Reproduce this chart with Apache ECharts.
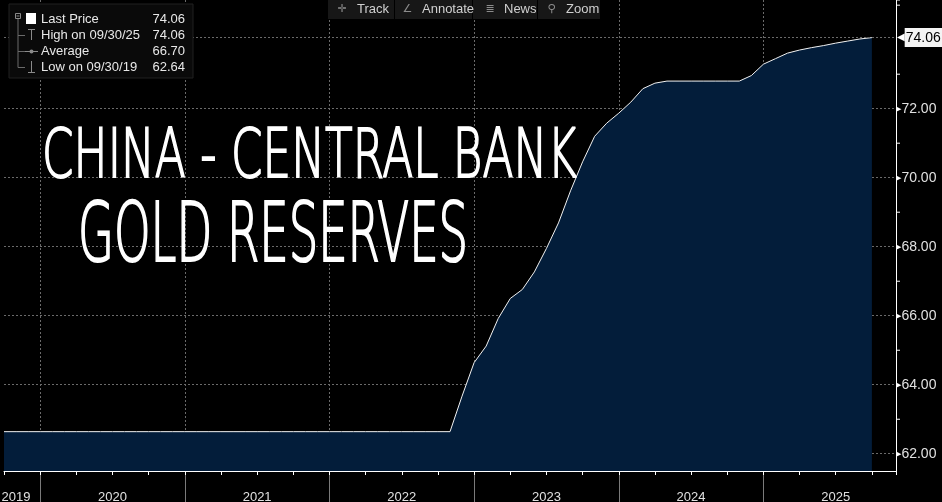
<!DOCTYPE html>
<html><head><meta charset="utf-8">
<script src="https://cdn.jsdelivr.net/npm/echarts@6/dist/echarts.min.js"></script>
<style>html,body{margin:0;padding:0;background:#000;}#c{width:942px;height:502px;}</style>
</head><body><div id="c"></div>
<script>
// ---- data ----
const months = [
 '2019-09','2019-10','2019-11','2019-12',
 '2020-01','2020-02','2020-03','2020-04','2020-05','2020-06','2020-07','2020-08','2020-09','2020-10','2020-11','2020-12',
 '2021-01','2021-02','2021-03','2021-04','2021-05','2021-06','2021-07','2021-08','2021-09','2021-10','2021-11','2021-12',
 '2022-01','2022-02','2022-03','2022-04','2022-05','2022-06','2022-07','2022-08','2022-09','2022-10','2022-11','2022-12',
 '2023-01','2023-02','2023-03','2023-04','2023-05','2023-06','2023-07','2023-08','2023-09','2023-10','2023-11','2023-12',
 '2024-01','2024-02','2024-03','2024-04','2024-05','2024-06','2024-07','2024-08','2024-09','2024-10','2024-11','2024-12',
 '2025-01','2025-02','2025-03','2025-04','2025-05','2025-06','2025-07','2025-08','2025-09'
];
const reserves = [
 62.64,62.64,62.64,62.64,
 62.64,62.64,62.64,62.64,62.64,62.64,62.64,62.64,62.64,62.64,62.64,62.64,
 62.64,62.64,62.64,62.64,62.64,62.64,62.64,62.64,62.64,62.64,62.64,62.64,
 62.64,62.64,62.64,62.64,62.64,62.64,62.64,62.64,62.64,62.64,63.67,64.64,
 65.12,65.92,66.50,66.76,67.27,67.95,68.69,69.62,70.46,71.20,71.58,71.87,
 72.19,72.58,72.74,72.80,72.80,72.80,72.80,72.80,72.80,72.80,72.96,73.29,
 73.45,73.61,73.70,73.77,73.83,73.90,73.96,74.02,74.06
];
const lastPrice = 74.06;
const yLabelTicks = [62, 64, 66, 68, 70, 72];
const yearLabels = ['2019','2020','2021','2022','2023','2024','2025'];
const legendRows = [['Last Price','74.06'],['High on 09/30/25','74.06'],['Average','66.70'],['Low on 09/30/19','62.64']];
const toolButtons = [['\u271B','Track'],['\u2220','Annotate'],['\u2263','News'],['\u26B2','Zoom']];
const titleLines = ['CHINA - CENTRAL BANK', 'GOLD RESERVES'];

// ---- helpers ----
const monthPos = s => (parseInt(s.slice(0,4),10) - 2019) * 12 + parseInt(s.slice(5,7),10);
const seriesData = months.map((m, i) => [monthPos(m), reserves[i]]);

const X_MIN = 9, X_MAX = 83, X_INT = 3;
const Y_MIN = 61.5, Y_MAX = 75.15, Y_INT = 0.5;
const GRID_DASH = '#6a6a6a';
const FONT = 'Liberation Sans, Arial, sans-serif';

const xSplitDashed = Array.from({length: 25}, (_, i) => (X_MIN + X_INT*i) % 12 === 0 ? GRID_DASH : 'rgba(0,0,0,0)');
const xSplitSolid = Array.from({length: 25}, (_, i) => (X_MIN + X_INT*i) % 12 === 0 ? '#7a7a7a' : 'rgba(0,0,0,0)');
const ySplit = Array.from({length: 28}, (_, i) => {
  const v = Y_MIN + Y_INT*i;
  return yLabelTicks.includes(v) ? GRID_DASH : 'rgba(0,0,0,0)';
});

// ---- graphics: legend, toolbar, title ----
const graphics = [];
graphics.push({type:'rect', z:100, shape:{x:9,y:4,width:184,height:74}, style:{fill:'#0a0a0a', stroke:'#202020', lineWidth:1}});
const rowY = [19, 35, 51, 67];
graphics.push({type:'rect', z:101, shape:{x:15.5,y:13.5,width:5,height:5}, style:{fill:'none', stroke:'#8a8a8a', lineWidth:1}});
graphics.push({type:'line', z:101, shape:{x1:16.5,y1:16,x2:19.5,y2:16}, style:{stroke:'#8a8a8a', lineWidth:1}});
graphics.push({type:'rect', z:101, shape:{x:26,y:13,width:10,height:11}, style:{fill:'#ffffff'}});
graphics.push({type:'line', z:101, shape:{x1:18,y1:19,x2:18,y2:67.5}, style:{stroke:'#6a6a6a', lineWidth:1}});
[35, 51, 67].forEach(y => graphics.push({type:'line', z:101, shape:{x1:18,y1:y+0.5,x2:25,y2:y+0.5}, style:{stroke:'#6a6a6a', lineWidth:1}}));
graphics.push({type:'line', z:101, shape:{x1:28,y1:29.5,x2:35,y2:29.5}, style:{stroke:'#8a8a8a', lineWidth:1}});
graphics.push({type:'line', z:101, shape:{x1:31.5,y1:29.5,x2:31.5,y2:40}, style:{stroke:'#8a8a8a', lineWidth:1}});
graphics.push({type:'line', z:101, shape:{x1:25,y1:51.5,x2:38,y2:51.5}, style:{stroke:'#8a8a8a', lineWidth:1}});
graphics.push({type:'circle', z:101, shape:{cx:31.5,cy:51.5,r:2}, style:{fill:'#8a8a8a'}});
graphics.push({type:'line', z:101, shape:{x1:31.5,y1:61,x2:31.5,y2:72.5}, style:{stroke:'#8a8a8a', lineWidth:1}});
graphics.push({type:'line', z:101, shape:{x1:28,y1:72.5,x2:35,y2:72.5}, style:{stroke:'#8a8a8a', lineWidth:1}});
legendRows.forEach((r, i) => {
  graphics.push({type:'text', z:102, x:41, y:rowY[i], style:{text:r[0], fill:'#e8e8e8', font:'13px ' + FONT, textAlign:'left', textVerticalAlign:'middle'}});
  graphics.push({type:'text', z:102, x:185, y:rowY[i], style:{text:r[1], fill:'#e8e8e8', font:'13px ' + FONT, textAlign:'right', textVerticalAlign:'middle'}});
});
const btnBoxes = [[328,394],[395,472],[473,537],[538,600]];
const iconX = [342, 407.5, 490, 551.5];
const textX = [357, 422, 504, 566];
toolButtons.forEach((b, i) => {
  graphics.push({type:'rect', z:100, shape:{x:btnBoxes[i][0], y:0, width:btnBoxes[i][1]-btnBoxes[i][0], height:19}, style:{fill:'#171717'}});
  graphics.push({type:'text', z:101, x:iconX[i], y:9.5, style:{text:b[0], fill:'#8c8c8c', font:'11px DejaVu Sans', textAlign:'center', textVerticalAlign:'middle'}});
  graphics.push({type:'text', z:101, x:textX[i], y:9.5, style:{text:b[1], fill:'#d0d0d0', font:'13px ' + FONT, textAlign:'left', textVerticalAlign:'middle'}});
});
const measureCtx = document.createElement('canvas').getContext('2d');
const titleFont = '200 44px DejaVu Sans';
measureCtx.font = titleFont;
const titleBoxes = [
  {x:42, cy:159, w:535, capH:50},
  {x:78, cy:240, w:390, capH:60}
];
titleLines.forEach((t, i) => {
  const b = titleBoxes[i];
  const mw = measureCtx.measureText(t).width;
  graphics.push({type:'text', z:90, x:b.x, y:b.cy, scaleX:b.w/mw, scaleY:b.capH/(0.73*44),
    style:{text:t, fill:'#ffffff', stroke:'#ffffff', lineWidth:1.2, lineJoin:'round', font:titleFont, textAlign:'left', textVerticalAlign:'middle'}});
});

// ---- chart ----
const chart = echarts.init(document.getElementById('c'), null, {renderer:'canvas'});
chart.setOption({
  backgroundColor: '#000000',
  animation: false,
  grid: [
    {left:4, right:46, top:0, bottom:31, containLabel:false, outerBoundsMode:'none'},
    {left:4, right:46, top:471, height:31, containLabel:false, outerBoundsMode:'none'}
  ],
  xAxis: [
    {type:'value', gridIndex:0, min:X_MIN, max:X_MAX, interval:X_INT,
     axisLine:{show:true, onZero:false, lineStyle:{color:'#ffffff', width:1}},
     axisTick:{show:true, length:4, lineStyle:{color:'#ffffff', width:1}},
     splitLine:{show:true, showMinLine:true, showMaxLine:true, lineStyle:{color:xSplitDashed, type:[2,2], width:1}},
     axisLabel:{show:true, margin:20, showMinLabel:true, showMaxLabel:true, color:'#e0e0e0', fontSize:13, fontFamily:FONT,
       formatter: v => {
         if (v === X_MIN) return '{f|' + yearLabels[0] + '}';
         if (v % 12 === 6) return yearLabels[Math.floor(v/12)] || '';
         return '';
       },
       rich:{f:{padding:[0,0,0,24], color:'#e0e0e0', fontSize:13, fontFamily:FONT}}
     }},
    {type:'value', gridIndex:1, min:X_MIN, max:X_MAX, interval:X_INT,
     axisLine:{show:false}, axisTick:{show:false}, axisLabel:{show:false},
     splitLine:{show:true, showMinLine:true, showMaxLine:true, lineStyle:{color:xSplitSolid, type:'solid', width:1}}}
  ],
  yAxis: [
    {type:'value', gridIndex:0, position:'right', min:Y_MIN, max:Y_MAX, interval:Y_INT,
     axisLine:{show:true, onZero:false, lineStyle:{color:'#ffffff', width:1}},
     axisTick:{show:false},
     splitLine:{show:true, showMinLine:true, showMaxLine:true, lineStyle:{color:ySplit, type:[2,2], width:1}},
     axisLabel:{show:true, margin:0, showMinLabel:true, showMaxLabel:true, color:'#e0e0e0', fontSize:14, fontFamily:FONT, align:'left',
       formatter: v => {
         const r = Math.round(v*2)/2;
         if (yLabelTicks.includes(r)) return '{t|\u25B6}{n|' + r.toFixed(2) + '}';
         if (Number.isInteger(r) && Math.abs(r % 2) === 1 && r < 76) return '{k| }';
         return '';
       },
       rich:{
         t:{color:'#ffffff', fontSize:7, fontFamily:'DejaVu Sans'},
         n:{color:'#e0e0e0', fontSize:14, fontFamily:FONT},
         k:{width:4, height:1, lineHeight:1, backgroundColor:'#ffffff', fontSize:1}
       }
     }},
    {type:'value', gridIndex:1, show:false, min:0, max:1}
  ],
  graphic: graphics,
  series: [
    {type:'line', xAxisIndex:0, yAxisIndex:0, data: seriesData, symbol:'none', showSymbol:false,
     lineStyle:{color:'#f2f2f2', width:1}, areaStyle:{color:'#031d3a', opacity:1},
     markLine:{silent:true, symbol:'none', animation:false,
       data:[{yAxis:lastPrice}],
       lineStyle:{color:GRID_DASH, type:[2,2], width:1},
       label:{show:true, position:'end', distance:1,
         formatter: () => '{a|\u25C0}{b|' + lastPrice.toFixed(2) + '}',
         rich:{
           a:{color:'#ffffff', fontSize:10, fontFamily:'DejaVu Sans'},
           b:{color:'#000000', backgroundColor:'#f4f4f4', fontSize:14, fontFamily:FONT, padding:[3,2,2,1]}
         }}
     }}
  ]
});
</script>
</body></html>
